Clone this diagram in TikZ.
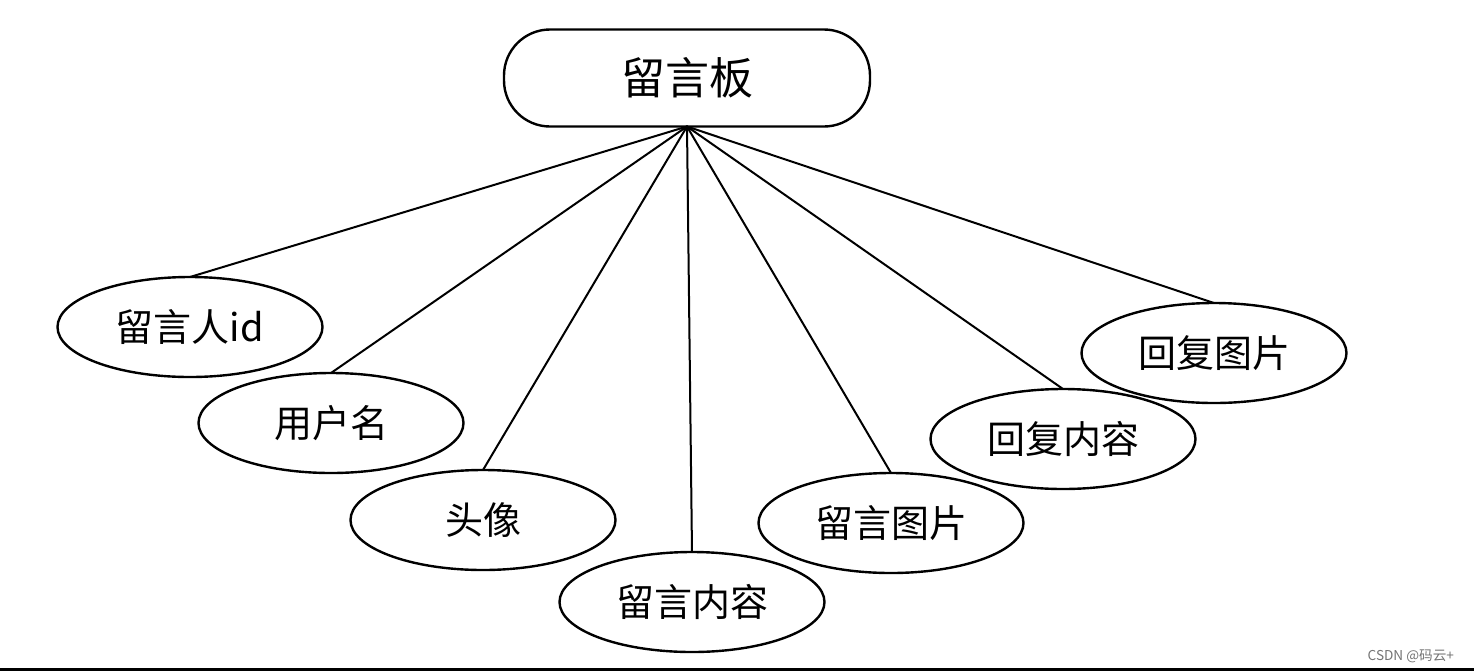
\documentclass[tikz,border=0pt]{standalone}
\usepackage{fontspec}
\setmainfont{Noto Sans CJK SC}
\usetikzlibrary{shapes.geometric}
\tikzset{
  attr/.style={ellipse,draw,line width=1.2pt,inner sep=0pt,outer sep=0pt,
               minimum width=132.5pt,minimum height=50pt,font=\fontsize{19}{22}\selectfont},
  board/.style={rectangle,draw,line width=1.2pt,rounded corners=23pt,inner sep=0pt,
                outer sep=0pt,minimum width=183pt,minimum height=48.5pt,
                font=\fontsize{22}{26}\selectfont},
  every picture/.style={line cap=round,line join=round}}

\begin{document}
\begin{tikzpicture}[x=0.5pt,y=-0.5pt]
  \useasboundingbox (0,0) rectangle (1474,671);
  \fill[black] (0,668) rectangle (1474,671);
  \node[board] (lyb) at (687,78){留言板};
  \node[attr] (a1) at (190,327){留言人id};
  \node[attr] (a2) at (331,423){用户名};
  \node[attr] (a3) at (483,520){头像};
  \node[attr] (a4) at (692,602){留言内容};
  \node[attr] (a5) at (891,523){留言图片};
  \node[attr] (a6) at (1063,439){回复内容};
  \node[attr] (a7) at (1214,353){回复图片};
  \foreach \i in {1,...,7}
    \draw[line width=1pt] (lyb.south) -- (a\i.north);
  \node[text=black!55,font=\fontsize{6.8}{8}\selectfont,anchor=east] (wm) at (1461,656){CSDN @码云+};
\end{tikzpicture}
\end{document}
